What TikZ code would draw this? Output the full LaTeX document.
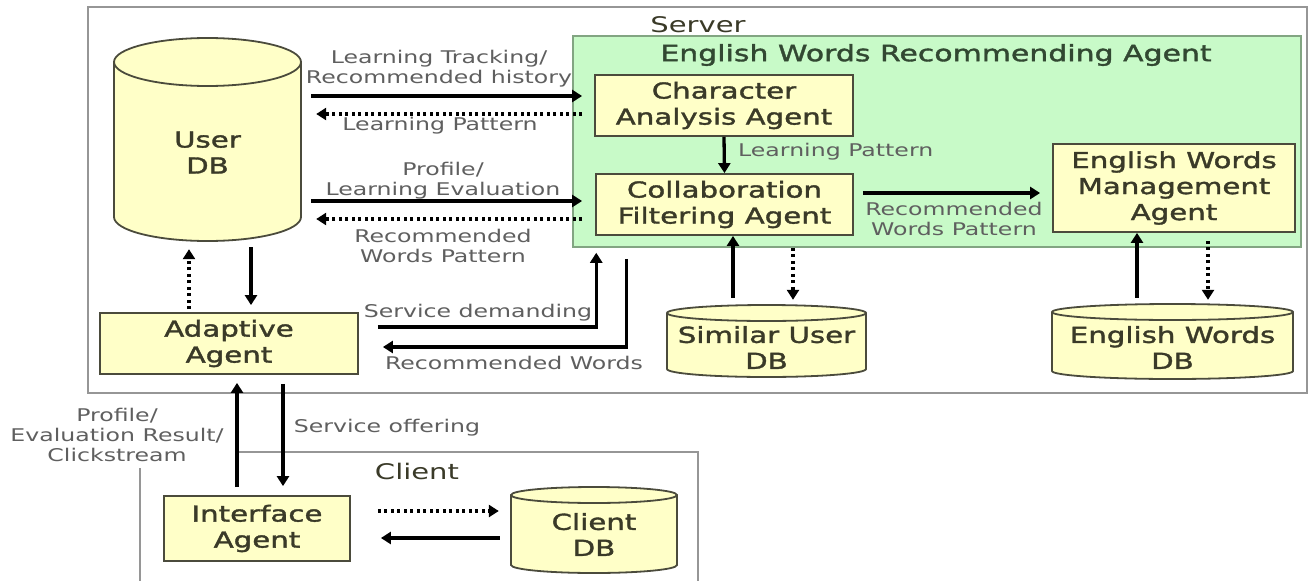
\documentclass[tikz,border=0pt]{standalone}
\usepackage{fontspec}
\setmainfont[FakeStretch=1.35]{DejaVu Sans}
\newfontfamily\nodefont[FakeStretch=1.33,FakeBold=1.6]{DejaVu Sans}
\usetikzlibrary{arrows.meta,calc}
\definecolor{yel}{RGB}{255,255,200}
\definecolor{grn}{RGB}{200,250,200}
\definecolor{edgec}{RGB}{75,75,60}
\definecolor{framec}{RGB}{150,150,150}
\definecolor{lblc}{RGB}{95,95,95}
\definecolor{ntext}{RGB}{58,58,40}
\definecolor{ttext}{RGB}{50,72,50}
\definecolor{gedge}{RGB}{130,165,130}
\begin{document}
\begin{tikzpicture}[x=1pt,y=-1pt,
 agentbox/.style={draw=edgec, line width=1.8pt, fill=yel, inner sep=0pt, align=center, text=ntext, font=\nodefont\fontsize{22}{26}\selectfont},
 dbshape/.style={draw=edgec, line width=1.8pt, fill=yel},
 dbtext/.style={align=center, text=ntext, inner sep=0pt, font=\nodefont\fontsize{22}{26}\selectfont},
 anchorbox/.style={draw=none, inner sep=0pt},
 lab/.style={align=center, text=lblc, inner sep=0pt, font=\fontsize{17.5}{20}\selectfont},
 grouplab/.style={text=ntext, inner sep=0pt, font=\fontsize{21.5}{25}\selectfont},
 framebox/.style={draw=framec, line width=1.5pt},
 sarrow/.style={line width=3.3pt, -{Triangle[length=10pt,width=12pt]}},
 darrow/.style={line width=3.3pt, dash pattern=on 3pt off 3.5pt, -{Triangle[length=10pt,width=12pt]}},
]
\useasboundingbox[fill=white] (0,0) rectangle (1312,581);

% server frame
\node[framebox, minimum width=1219pt, minimum height=386pt, inner sep=0pt] (server) at (697.5,200) {};
\node[grouplab] (serverlab) at (698,25) {Server};

% client frame
\draw[framebox] (140,581) -- (140,468);
\draw[framebox] (238,452) -- (698,452) -- (698,581);
\node[grouplab] (clientlab) at (417,471) {Client};

% green agent container
\node[draw=gedge, line width=1.5pt, fill=grn, minimum width=728pt, minimum height=211pt, inner sep=0pt] (green) at (937,141.5) {};
\node[text=ttext, inner sep=0pt, font=\nodefont\fontsize{22.5}{26}\selectfont] (greentitle) at (936,55) {English Words Recommending Agent};

% agent boxes
\node[agentbox, minimum width=258pt, minimum height=61pt] (char) at (724,105.5) {Character\\Analysis Agent};
\node[agentbox, minimum width=257pt, minimum height=61pt] (collab) at (724.5,204.5) {Collaboration\\Filtering Agent};
\node[agentbox, minimum width=242pt, minimum height=88pt] (ewm) at (1174,188) {English Words\\Management\\Agent};
\node[agentbox, minimum width=258pt, minimum height=61pt] (adaptive) at (229,343.5) {Adaptive\\Agent};
\node[agentbox, minimum width=186pt, minimum height=65pt] (interface) at (257,528.5) {Interface\\Agent};

% cylinders
\draw[dbshape] (114,62) -- (114,217) arc[start angle=180,end angle=360,x radius=93.5pt,y radius=24pt] -- (301,62) arc[start angle=0,end angle=180,x radius=93.5pt,y radius=24pt] -- cycle;
\draw[edgec, line width=1.8pt] (114,62) arc[start angle=180,end angle=360,x radius=93.5pt,y radius=24pt];
\node[anchorbox, minimum width=187pt, minimum height=203pt] (userdb) at (207.5,139.5) {};
\node[dbtext] (userdbt) at (207.5,152.5) {User\\DB};

\draw[dbshape] (667,313) -- (667,369) arc[start angle=180,end angle=360,x radius=99.5pt,y radius=8pt] -- (866,313) arc[start angle=0,end angle=180,x radius=99.5pt,y radius=8pt] -- cycle;
\draw[edgec, line width=1.8pt] (667,313) arc[start angle=180,end angle=360,x radius=99.5pt,y radius=8pt];
\node[anchorbox, minimum width=199pt, minimum height=72pt] (simdb) at (766.5,341) {};
\node[dbtext] (simdbt) at (766.5,347.5) {Similar User\\DB};

\draw[dbshape] (1052,312) -- (1052,371) arc[start angle=180,end angle=360,x radius=120.5pt,y radius=8pt] -- (1293,312) arc[start angle=0,end angle=180,x radius=120.5pt,y radius=8pt] -- cycle;
\draw[edgec, line width=1.8pt] (1052,312) arc[start angle=180,end angle=360,x radius=120.5pt,y radius=8pt];
\node[anchorbox, minimum width=241pt, minimum height=75pt] (ewdb) at (1172.5,341.5) {};
\node[dbtext] (ewdbt) at (1172.5,347.5) {English Words\\DB};

\draw[dbshape] (511,495) -- (511,565) arc[start angle=180,end angle=360,x radius=83pt,y radius=8pt] -- (677,495) arc[start angle=0,end angle=180,x radius=83pt,y radius=8pt] -- cycle;
\draw[edgec, line width=1.8pt] (511,495) arc[start angle=180,end angle=360,x radius=83pt,y radius=8pt];
\node[anchorbox, minimum width=166pt, minimum height=86pt] (clientdb) at (594,530) {};
\node[dbtext] (clientdbt) at (594,534.5) {Client\\DB};

% User DB <-> Character / Collaboration
\coordinate (c1) at ($(char.west)+(0,-9.5)$);
\draw[sarrow, shorten <=10pt, shorten >=12pt] (userdb.east |- c1) -- (c1);
\coordinate (c2) at ($(char.west)+(0,8.5)$);
\draw[darrow, shorten <=12pt, shorten >=15pt] (c2) -- (userdb.east |- c2);
\coordinate (c3) at ($(collab.west)+(0,-3.5)$);
\draw[sarrow, shorten <=10pt, shorten >=13pt] (userdb.east |- c3) -- (c3);
\coordinate (c4) at ($(collab.west)+(0,14.5)$);
\draw[darrow, shorten <=13pt, shorten >=15pt] (c4) -- (userdb.east |- c4);

\node[lab] (l1) at (439,69) {Learning Tracking/\\Recommended history};
\node[lab] (l2) at (440,126) {Learning Pattern};
\node[lab] (l3) at (443,181) {Profile/\\Learning Evaluation};
\node[lab] (l4) at (443,246) {Recommended\\Words Pattern};

% inside the agent
\draw[sarrow] (char.south) -- (collab.north);
\node[lab, anchor=west] (l5) at (738,152) {Learning Pattern};
\coordinate (c5) at ($(collab.east)+(9,-11.5)$);
\draw[sarrow, shorten >=12pt] (c5) -- (ewm.west |- c5);
\node[lab] (l6) at (954,218.5) {Recommended\\Words Pattern};

% DBs under the agent
\coordinate (s1) at ($(simdb.north)+(-33.5,-7)$);
\draw[sarrow] (s1) -- (s1 |- collab.south);
\coordinate (s2) at ($(simdb.north)+(26.5,-5)$);
\draw[darrow] (s2 |- green.south) -- (s2);
\coordinate (e1) at ($(ewdb.north)+(-35.5,-6)$);
\draw[sarrow] (e1) -- (e1 |- ewm.south);
\coordinate (e2) at ($(ewdb.north)+(35.5,-4)$);
\draw[darrow] ($(e2 |- ewm.south)+(0,8)$) -- (e2);

% Adaptive <-> User DB
\coordinate (u1) at ($(adaptive.north)+(-40,-3)$);
\draw[darrow] (u1) -- ($(u1 |- userdb.south)+(0,8)$);
\coordinate (u2) at ($(adaptive.north)+(22,-7)$);
\draw[sarrow] ($(u2 |- userdb.south)+(0,6)$) -- (u2);

% Adaptive <-> agent
\draw[sarrow] ($(adaptive.east)+(19,-16.5)$) -| ($(green.south west)+(24,5)$);
\draw[sarrow] ($(green.south west)+(54,11)$) |- ($(adaptive.east)+(24,3.5)$);
\node[lab] (l7) at (478,313) {Service demanding};
\node[lab] (l8) at (514,363) {Recommended Words};

% Adaptive <-> Interface
\coordinate (i1) at ($(interface.north)+(-20,-8)$);
\draw[sarrow] (i1) -- ($(i1 |- adaptive.south)+(0,8)$);
\coordinate (i2) at ($(interface.north)+(26,-9)$);
\draw[sarrow] ($(i2 |- adaptive.south)+(0,9)$) -- (i2);
\node[lab] (l9) at (117,434.5) {Profile/\\Evaluation Result/\\Clickstream};
\node[lab] (l10) at (387,428) {Service offering};

% Interface <-> Client DB
\coordinate (k1) at ($(interface.east)+(27,-17.5)$);
\draw[darrow] (k1) -- ($(k1 -| clientdb.west)+(-12,0)$);
\coordinate (k2) at ($(interface.east)+(30,9.5)$);
\draw[sarrow] ($(k2 -| clientdb.west)+(-11,0)$) -- (k2);
\end{tikzpicture}
\end{document}
